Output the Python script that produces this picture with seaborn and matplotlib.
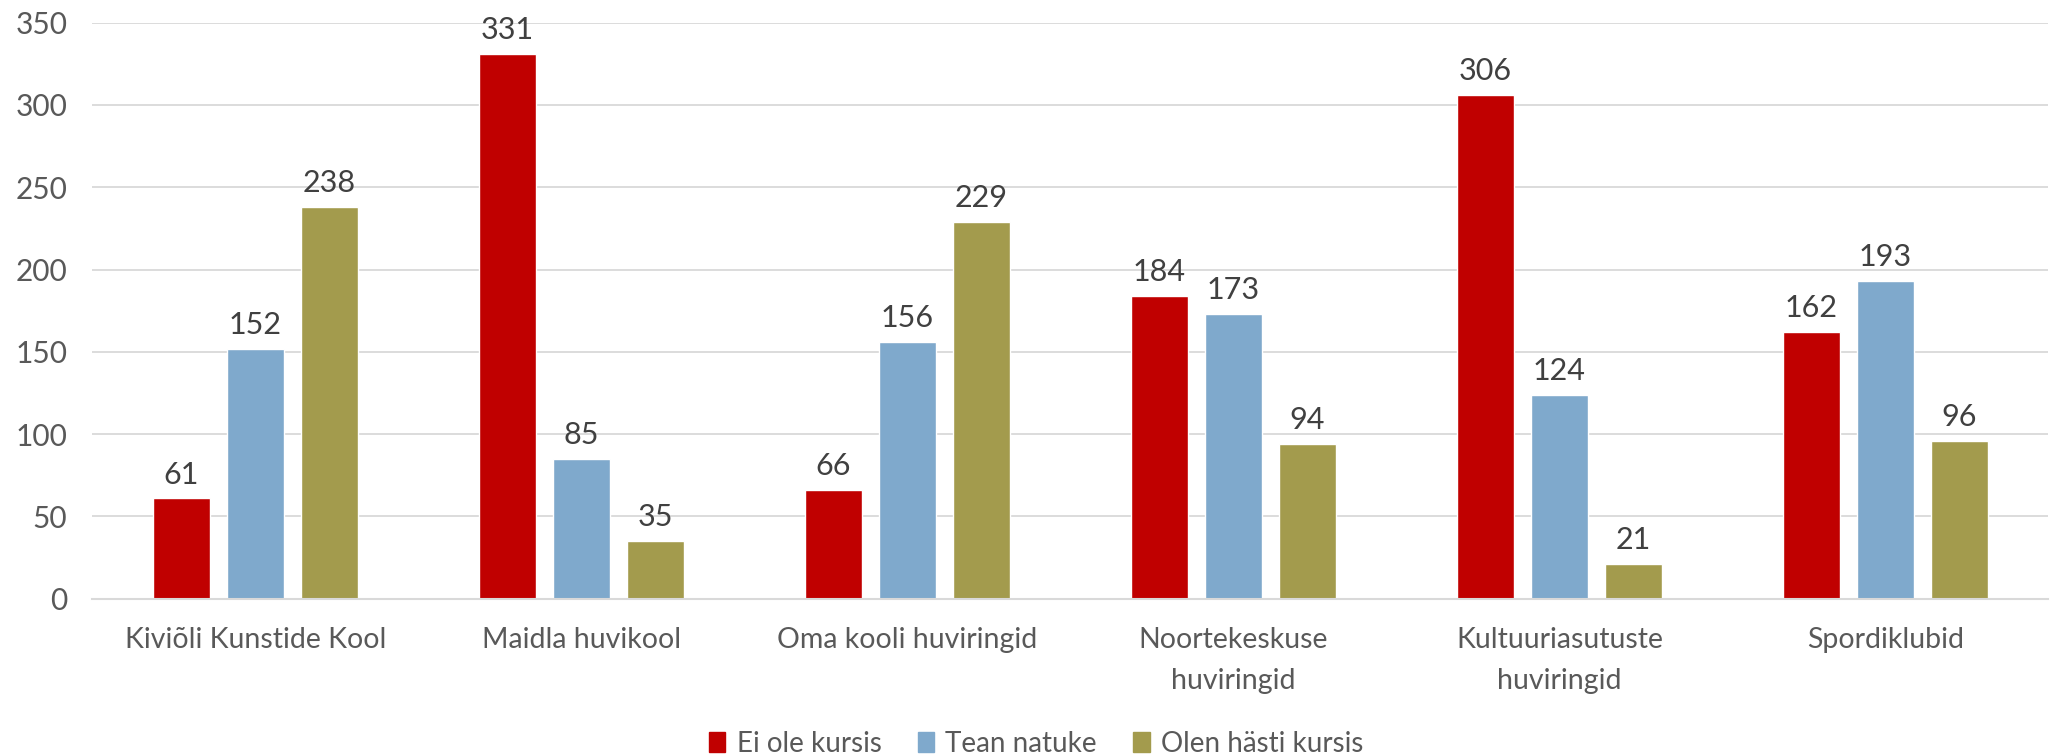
import matplotlib
matplotlib.use("Agg")
import matplotlib.pyplot as plt
import seaborn as sns
import pandas as pd

categories = [
    "Kiviõli Kunstide Kool",
    "Maidla huvikool",
    "Oma kooli huviringid",
    "Noortekeskuse\nhuviringid",
    "Kultuuriasutuste\nhuviringid",
    "Spordiklubid",
]
series = ["Ei ole kursis", "Tean natuke", "Olen hästi kursis"]
ei_ole = [61, 331, 66, 184, 306, 162]
tean = [152, 85, 156, 173, 124, 193]
hasti = [238, 35, 229, 94, 21, 96]
colors = ["#C00000", "#7FA9CC", "#A39B4D"]

rows = []
for name, vals in zip(series, [ei_ole, tean, hasti]):
    for cat, v in zip(categories, vals):
        rows.append({"kategooria": cat, "vastus": name, "arv": v})
df = pd.DataFrame(rows)

sns.set_style("white")
plt.rcParams["font.family"] = ["Lato", "DejaVu Sans"]

fig = plt.figure(figsize=(20.72, 7.56), dpi=100)
ax = fig.add_axes([0.0446, 0.208, 0.944, 0.762])

sns.barplot(data=df, x="kategooria", y="arv", hue="vastus", order=categories,
            hue_order=series, palette=colors, width=0.68, gap=0.23,
            saturation=1, ax=ax, legend=True)

for cont in ax.containers:
    ax.bar_label(cont, padding=7, fontsize=22, color="#404040")

ax.set_ylim(0, 350)
ax.set_yticks(range(0, 351, 50))
ax.set_xlim(-0.5, len(categories) - 0.5)
ax.yaxis.grid(True, color="#D9D9D9", linewidth=1.3)
ax.set_axisbelow(True)
for s in ["top", "right", "left"]:
    ax.spines[s].set_visible(False)
ax.spines["bottom"].set_color("#D9D9D9")
ax.spines["bottom"].set_linewidth(1.5)
ax.tick_params(axis="both", length=0, colors="#595959")
ax.tick_params(axis="y", labelsize=21.5, pad=18)
ax.tick_params(axis="x", labelsize=20.5, pad=20)
for lab in ax.get_xticklabels():
    lab.set_linespacing(1.75)
ax.set_xlabel("")
ax.set_ylabel("")

ax.legend_.remove()
handles = [plt.Rectangle((0, 0), 1, 1, color=c) for c in colors]
fig.legend(handles, series, loc="center", bbox_to_anchor=(0.5, 0.016),
           ncol=3, frameon=False, fontsize=20, handlelength=0.6,
           handleheight=0.7, handletextpad=0.4, columnspacing=1.3,
           labelcolor="#595959")

fig.savefig("out.png", dpi=100)
